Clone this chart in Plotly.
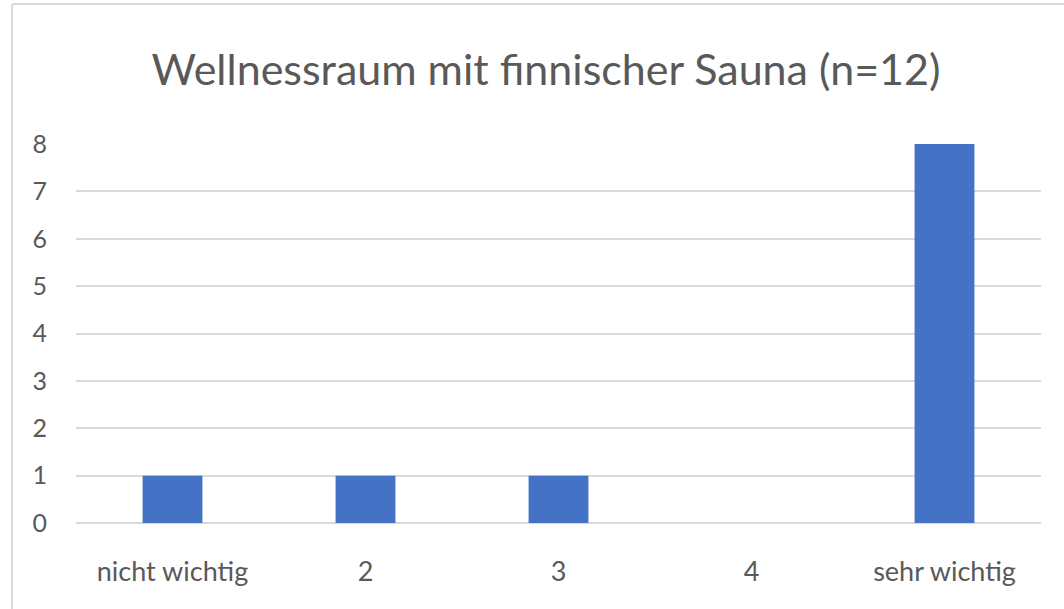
import plotly.graph_objects as go

categories = ["nicht wichtig", "2", "3", "4", "sehr wichtig"]
values = [1, 1, 1, 0, 8]
y_ticks = [0, 1, 2, 3, 4, 5, 6, 7, 8]
title_text = "Wellnessraum mit finnischer Sauna (n=12)"

W, H = 1064, 609
L, R, T, B = 76, 23, 144, 86
pw, ph = W - L - R, H - T - B

def px_x(x):
    return (x - L) / pw

def px_y(y):
    return (H - B - y) / ph

fig = go.Figure(go.Bar(x=categories, y=values, marker=dict(color="#4472C4", line=dict(width=0)), width=0.31))

font_family = "Lato, Open Sans, sans-serif"
fig.update_layout(
    width=W, height=H,
    margin=dict(l=L, r=R, t=T, b=B),
    paper_bgcolor="white", plot_bgcolor="white",
    title=dict(text=title_text, x=546 / W, xanchor="center", y=1 - 70 / H, yanchor="middle",
               font=dict(family=font_family, size=43, color="#595959")),
    showlegend=False,
    xaxis=dict(showgrid=False, showline=False, zeroline=False, ticks="",
               tickfont=dict(family=font_family, size=27, color="#595959"),
               ticklabelstandoff=30),
    yaxis=dict(range=[0, 8], tickvals=y_ticks, showgrid=True, gridcolor="#D9D9D9", gridwidth=2,
               zeroline=True, zerolinecolor="#D9D9D9", zerolinewidth=2, showline=False, ticks="",
               tickfont=dict(family=font_family, size=25, color="#595959"),
               ticklabelstandoff=28),
    shapes=[
        dict(type="line", xref="paper", yref="paper", x0=px_x(12), x1=px_x(12), y0=px_y(4), y1=px_y(H),
             line=dict(color="#D9D9D9", width=2)),
        dict(type="line", xref="paper", yref="paper", x0=px_x(12), x1=px_x(W), y0=px_y(4), y1=px_y(4),
             line=dict(color="#D9D9D9", width=2)),
    ],
)

fig.write_html("out.html", config={"displayModeBar": False},
               post_script="document.body.style.margin='0';document.body.style.padding='0';")
